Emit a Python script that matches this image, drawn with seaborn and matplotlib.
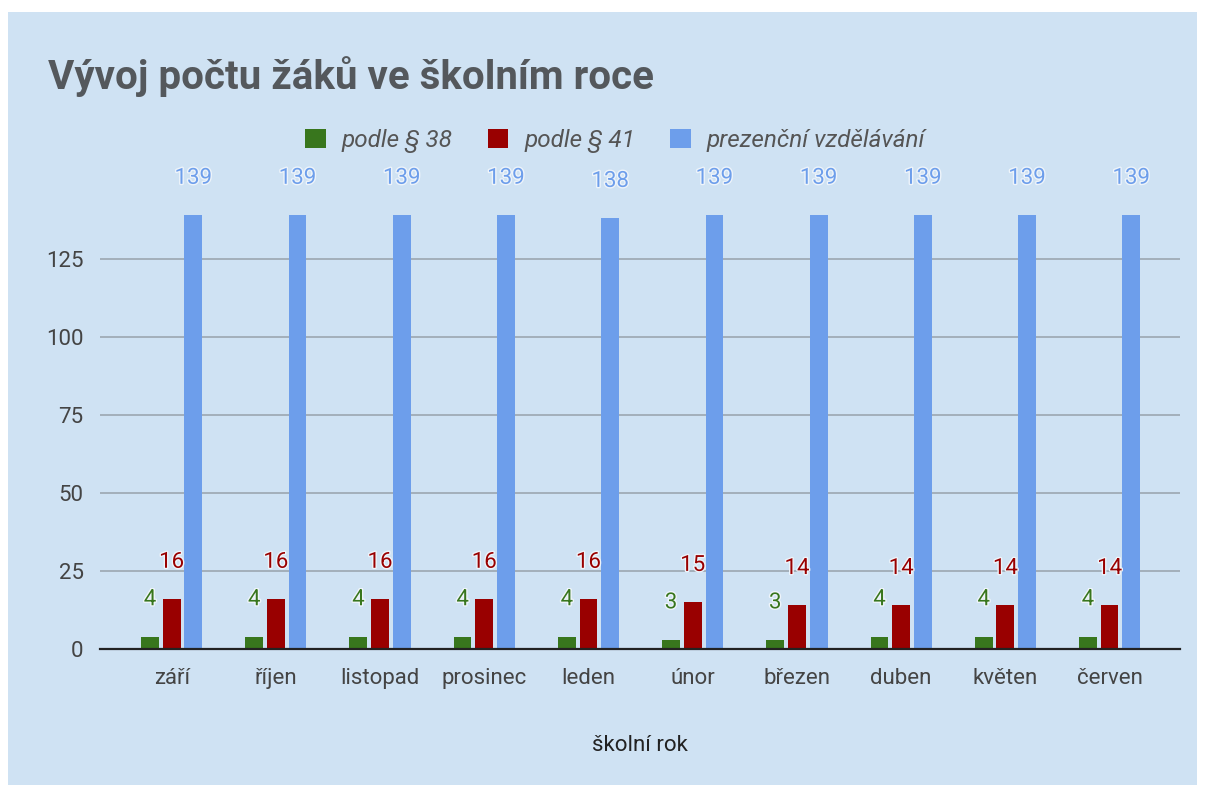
import pandas as pd
import matplotlib.pyplot as plt
import matplotlib.patheffects as pe
from matplotlib.patches import Rectangle, Patch
import seaborn as sns

# Data
months = ['září', 'říjen', 'listopad', 'prosinec', 'leden',
          'únor', 'březen', 'duben', 'květen', 'červen']
podle_38 = [4, 4, 4, 4, 4, 3, 3, 4, 4, 4]
podle_41 = [16, 16, 16, 16, 16, 15, 14, 14, 14, 14]
prezencni = [139, 139, 139, 139, 138, 139, 139, 139, 139, 139]
series = ['podle § 38', 'podle § 41', 'prezenční vzdělávání']
colors = ['#38761d', '#990000', '#6d9eeb']

df = pd.DataFrame({'mesic': months, series[0]: podle_38,
                   series[1]: podle_41, series[2]: prezencni})
long = df.melt(id_vars='mesic', var_name='typ', value_name='pocet')

sns.set_style('white')
plt.rcParams['font.family'] = ['Roboto', 'DejaVu Sans']

fig = plt.figure(figsize=(12.07, 7.87), dpi=100, facecolor='white')
# light blue panel
fig.patches.append(Rectangle((8 / 1207, 2 / 787), 1189 / 1207, 773 / 787,
                             transform=fig.transFigure, facecolor='#cfe2f3',
                             edgecolor='none', zorder=-10))

ax = fig.add_axes([0.083, 0.1753, 0.895, 0.595])
ax.set_facecolor('none')
sns.barplot(data=long, x='mesic', y='pocet', hue='typ', palette=colors,
            width=0.625, gap=0.18, saturation=1, linewidth=0,
            ax=ax, legend=False, zorder=3)

for cont, col in zip(ax.containers, colors):
    for bar in cont:
        h = bar.get_height()
        ax.annotate(f'{int(h)}', (bar.get_x() + bar.get_width() / 2, h),
                    xytext=(0, 26.5), textcoords='offset points',
                    ha='center', va='center', fontsize=16, color=col,
                    annotation_clip=False, zorder=5,
                    path_effects=[pe.withStroke(linewidth=2, foreground='#eef4fa')])

ax.set_ylim(0, 150)
ax.set_xlim(-0.686, 9.68)
ax.set_yticks([0, 25, 50, 75, 100, 125])
ax.yaxis.grid(True, color='#a0abb6', linewidth=1.3, zorder=0)
ax.set_axisbelow(True)
for s in ['top', 'right', 'left']:
    ax.spines[s].set_visible(False)
ax.spines['bottom'].set_color('#222222')
ax.spines['bottom'].set_linewidth(1.6)
ax.spines['bottom'].set_zorder(4)
ax.tick_params(axis='both', length=0, labelsize=16, labelcolor='#444444')
ax.tick_params(axis='y', pad=12)
ax.tick_params(axis='x', pad=14)
ax.set_ylabel('')
ax.set_xlabel('školní rok', fontsize=16, color='#222222', labelpad=33)

fig.text(48 / 1207, 1 - 77 / 787, 'Vývoj počtu žáků ve školním roce',
         fontsize=29, fontweight='bold', color='#54585c', va='center', ha='left')

handles = [Patch(facecolor=c, edgecolor='none') for c in colors]
leg = fig.legend(handles, series, loc='center', bbox_to_anchor=(0.5095, 1 - 141 / 787),
                 ncol=3, frameon=False, handlelength=0.85, handleheight=0.85,
                 columnspacing=1.45, handletextpad=0.65,
                 prop={'style': 'italic', 'size': 17.5})
for t in leg.get_texts():
    t.set_color('#555555')

fig.savefig('out.png', dpi=100, facecolor='white')
